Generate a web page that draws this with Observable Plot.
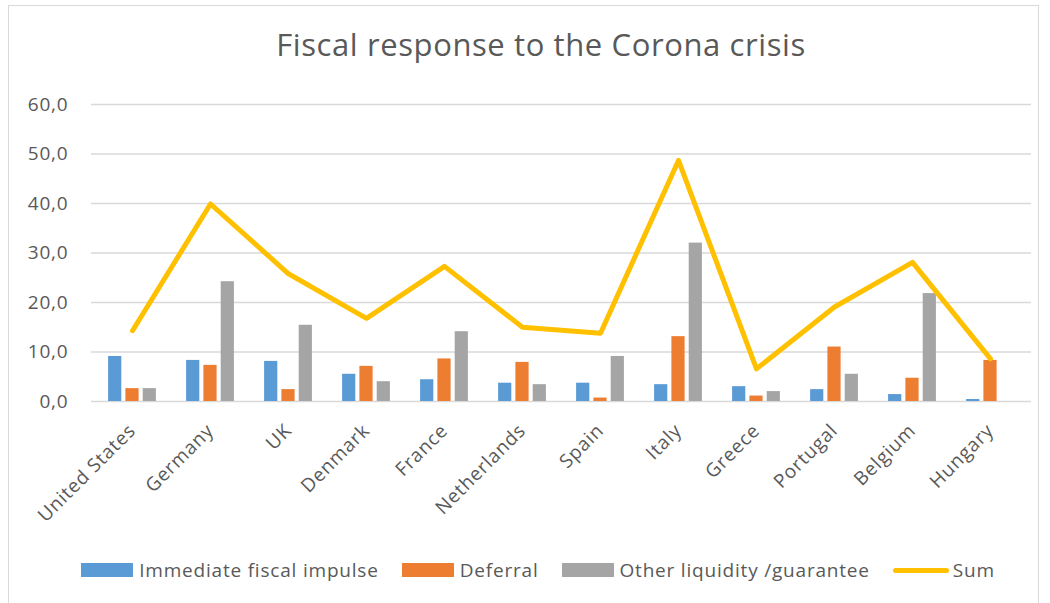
<!DOCTYPE html>
<html><head><meta charset="utf-8">
<script src="https://cdn.jsdelivr.net/npm/d3@7"></script>
<script src="https://cdn.jsdelivr.net/npm/@observablehq/plot@0.6"></script>
<style>
body{margin:0;background:#fff;font-family:"Open Sans",sans-serif;width:1050px;height:603px;overflow:hidden;position:relative;}
#frame{position:absolute;left:8px;top:5px;width:1031px;height:620px;border:1px solid #d9d9d9;box-sizing:border-box;}
#title{position:absolute;left:16px;width:1050px;top:23px;text-align:center;font-size:31px;letter-spacing:0.6px;color:#595959;line-height:1.362;}
#chart{position:absolute;left:0;top:80px;}
#legend{position:absolute;top:558px;left:0;width:1076px;height:24px;display:flex;justify-content:center;align-items:center;font-size:19px;letter-spacing:0.8px;color:#595959;}
.item{display:flex;align-items:center;margin:0 11.5px;}
.sw{width:52px;height:14px;margin-right:6px;}
.ln{width:56px;height:5px;border-radius:3px;margin-right:4px;}
#chart svg text{letter-spacing:0.8px;}
</style></head>
<body>
<div id="frame"></div>
<div id="title">Fiscal response to the Corona crisis</div>
<div id="chart"></div>
<div id="legend"></div>
<script>
const countries = ["United States","Germany","UK","Denmark","France","Netherlands","Spain","Italy","Greece","Portugal","Belgium","Hungary"];
const immediate = [9.1, 8.3, 8.1, 5.5, 4.4, 3.7, 3.7, 3.4, 3.0, 2.4, 1.4, 0.4];
const deferral  = [2.6, 7.3, 2.4, 7.1, 8.6, 7.9, 0.7, 13.1, 1.1, 11.0, 4.7, 8.3];
const other     = [2.6, 24.2, 15.4, 4.0, 14.1, 3.4, 9.1, 32.0, 2.0, 5.5, 21.8, 0];
const total     = [14.3, 39.9, 25.8, 16.8, 27.3, 15.0, 13.8, 48.7, 6.6, 19.1, 28.1, 8.6];
const yTicks = [0, 10, 20, 30, 40, 50, 60];
const seriesNames = ["Immediate fiscal impulse", "Deferral", "Other liquidity /guarantee", "Sum"];
const colors = ["#5B9BD5", "#ED7D31", "#A5A5A5", "#FFC000"];

const rows = countries.map((c, i) => ({country: c, immediate: immediate[i], deferral: deferral[i], other: other[i], total: total[i]}));

const barOpts = (key, i) => ({x: "country", y: key, fill: colors[i], dx: (i - 1) * 17.3, insetLeft: 32.4, insetRight: 32.4});

const chart = Plot.plot({
  width: 1050, height: 471,
  marginTop: 24, marginBottom: 150, marginLeft: 91, marginRight: 19,
  style: {fontFamily: "Open Sans", fontSize: "19px", color: "#595959", background: "transparent"},
  x: {domain: countries, padding: 0, label: null, tickSize: 0, tickRotate: -45, tickPadding: 26},
  y: {domain: [0, 60], ticks: yTicks, tickFormat: d => d.toFixed(1).replace(".", ","), label: null, tickSize: 0, tickPadding: 23},
  marks: [
    Plot.ruleY(yTicks, {stroke: "#d9d9d9", strokeWidth: 1.3}),
    Plot.barY(rows, barOpts("immediate", 0)),
    Plot.barY(rows, barOpts("deferral", 1)),
    Plot.barY(rows.filter(d => d.other > 0), barOpts("other", 2)),
    Plot.lineY(rows, {x: "country", y: "total", stroke: colors[3], strokeWidth: 5, strokeLinejoin: "round", strokeLinecap: "round"})
  ]
});
document.getElementById("chart").appendChild(chart);

const legend = document.getElementById("legend");
seriesNames.forEach((name, i) => {
  const it = document.createElement("div");
  it.className = "item";
  const sw = document.createElement("div");
  sw.className = i === 3 ? "ln" : "sw";
  sw.style.background = colors[i];
  const tx = document.createElement("span");
  tx.textContent = name;
  it.appendChild(sw); it.appendChild(tx);
  legend.appendChild(it);
});
</script>
</body></html>
